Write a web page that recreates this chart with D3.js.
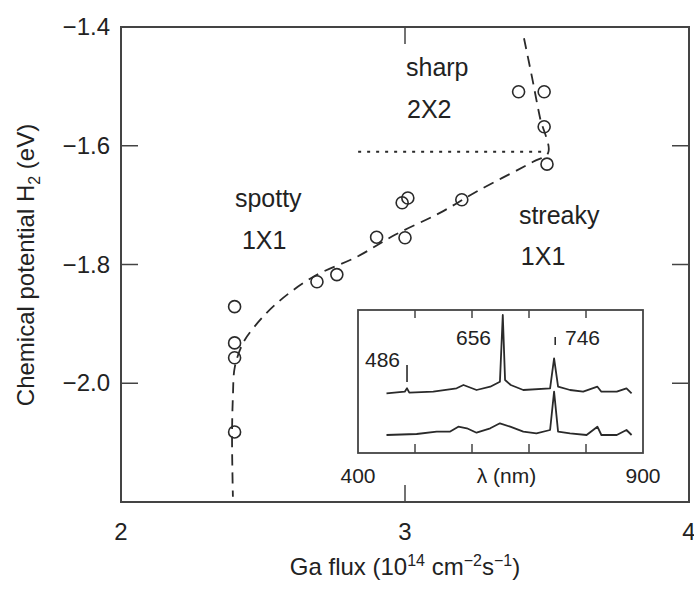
<!DOCTYPE html>
<html lang="en">
<head>
    <meta charset="UTF-8">
    <title>Chemical potential vs Ga flux</title>
    <script src="https://d3js.org/d3.v7.min.js"></script>
    <style>
        body { margin: 0; background: #fff; }
        svg { display: block; }
        text { font-family: "Liberation Sans", Arial, sans-serif; fill: #222; }
    </style>
</head>
<body>
<div id="chart"></div>
<script>
    // Measured points (Ga flux in 1e14 cm^-2 s^-1, chemical potential in eV)
    const fluxPts = [2.4, 2.4, 2.4, 2.4, 2.69, 2.76, 2.90, 3.00, 2.99, 3.01, 3.20, 3.40, 3.49, 3.49, 3.50];
    const muPts = [-1.871, -1.932, -1.957, -2.082, -1.829, -1.817, -1.754, -1.755, -1.696, -1.688, -1.691, -1.509, -1.509, -1.568, -1.631];

    // Dashed guide curve
    const fitFlux = [3.419, 3.447, 3.475, 3.504, 3.451, 3.264, 3.123, 2.965, 2.831, 2.676, 2.542, 2.461, 2.430, 2.401, 2.394, 2.391, 2.394];
    const fitMu = [-1.419, -1.484, -1.552, -1.612, -1.627, -1.674, -1.713, -1.750, -1.787, -1.821, -1.868, -1.910, -1.932, -1.972, -2.023, -2.090, -2.191];

    // Dotted 2X2 boundary
    const boundFlux = [2.835, 3.5];
    const boundMu = [-1.61, -1.61];

    const xTicks = [2, 3, 4];
    const yTicks = [-1.4, -1.6, -1.8, -2.0];

    // Inset spectra (wavelength nm, intensity arb. units)
    const lamTop = [450, 482, 486, 490, 532, 573, 585, 608, 632, 649, 654, 658, 668, 690, 737, 744, 751, 772, 795, 820, 827, 854, 871, 880];
    const intTop = [59.7, 61.3, 64.7, 60.3, 61.3, 64.7, 68, 63, 66.3, 71.3, 138, 73, 68, 63, 64.7, 94.7, 66.3, 63, 61.3, 66.3, 61.3, 61.3, 64.7, 59.7];
    const lamBot = [450, 503, 538, 561, 576, 591, 608, 632, 649, 667, 690, 713, 737, 744, 751, 772, 801, 820, 827, 854, 871, 880];
    const intBot = [18, 19, 21.3, 21.3, 26.3, 24.7, 20.3, 24.7, 29.7, 26.3, 21.3, 19.7, 23, 61.3, 21.3, 19.7, 18, 26.3, 18, 18, 23, 18];
    const insetTicks = [500, 600, 700, 800];
    const insetTickLabels = ["400", "900"];
    const lineLabels = ["486", "656", "746"];

    const W = 694, H = 591;
    const svg = d3.select("#chart").append("svg")
        .attr("width", W)
        .attr("height", H);

    const x = d3.scaleLinear().domain([2, 4]).range([121, 689]);
    const y = d3.scaleLinear().domain([-2.2, -1.4]).range([502, 27]);

    const ink = "#2a2a2a";

    // frame
    svg.append("rect")
        .attr("x", x(2)).attr("y", y(-1.4))
        .attr("width", x(4) - x(2)).attr("height", y(-2.2) - y(-1.4))
        .attr("fill", "none").attr("stroke", "#444").attr("stroke-width", 2);

    // inward ticks on all four sides
    const tl = 17;
    svg.append("g").selectAll("line")
        .data(xTicks.slice(1, -1))
        .join("line")
        .attr("x1", d => x(d)).attr("x2", d => x(d))
        .attr("y1", y(-2.2)).attr("y2", y(-2.2) - tl)
        .attr("stroke", "#444").attr("stroke-width", 1.5);
    svg.append("g").selectAll("line")
        .data(xTicks.slice(1, -1))
        .join("line")
        .attr("x1", d => x(d)).attr("x2", d => x(d))
        .attr("y1", y(-1.4)).attr("y2", y(-1.4) + tl)
        .attr("stroke", "#444").attr("stroke-width", 1.5);
    svg.append("g").selectAll("line")
        .data(yTicks.slice(1))
        .join("line")
        .attr("x1", x(2)).attr("x2", x(2) + tl)
        .attr("y1", d => y(d)).attr("y2", d => y(d))
        .attr("stroke", "#444").attr("stroke-width", 1.5);
    svg.append("g").selectAll("line")
        .data(yTicks.slice(1))
        .join("line")
        .attr("x1", x(4)).attr("x2", x(4) - tl)
        .attr("y1", d => y(d)).attr("y2", d => y(d))
        .attr("stroke", "#444").attr("stroke-width", 1.5);

    // tick labels
    svg.append("g").selectAll("text")
        .data(xTicks)
        .join("text")
        .attr("x", d => x(d))
        .attr("y", 540)
        .attr("text-anchor", "middle")
        .style("font-size", "24px")
        .text(d => d);
    svg.append("g").selectAll("text")
        .data(yTicks)
        .join("text")
        .attr("x", 110)
        .attr("y", d => y(d) + 8)
        .attr("text-anchor", "end")
        .style("font-size", "24px")
        .text(d => "\u2212" + Math.abs(d).toFixed(1));

    // axis titles
    const xt = svg.append("text")
        .attr("x", 405).attr("y", 575)
        .attr("text-anchor", "middle")
        .style("font-size", "24px");
    xt.append("tspan").text("Ga flux (10");
    xt.append("tspan").attr("dy", -9).style("font-size", "16px").text("14");
    xt.append("tspan").attr("dy", 9).text(" cm");
    xt.append("tspan").attr("dy", -9).style("font-size", "16px").text("\u22122");
    xt.append("tspan").attr("dy", 9).text("s");
    xt.append("tspan").attr("dy", -9).style("font-size", "16px").text("\u22121");
    xt.append("tspan").attr("dy", 9).text(")");

    const yt = svg.append("text")
        .attr("transform", "translate(34,265) rotate(-90)")
        .attr("text-anchor", "middle")
        .style("font-size", "24px");
    yt.append("tspan").text("Chemical potential H");
    yt.append("tspan").attr("dy", 6).style("font-size", "16px").text("2");
    yt.append("tspan").attr("dy", -6).text(" (eV)");

    // dashed guide curve
    const fit = fitFlux.map((f, i) => [f, fitMu[i]]);
    svg.append("path")
        .datum(fit)
        .attr("d", d3.line().x(d => x(d[0])).y(d => y(d[1])).curve(d3.curveCatmullRom.alpha(0.5)))
        .attr("fill", "none")
        .attr("stroke", ink)
        .attr("stroke-width", 1.8)
        .attr("stroke-dasharray", "11,7");

    // dotted boundary
    svg.append("path")
        .datum(boundFlux.map((f, i) => [f, boundMu[i]]))
        .attr("d", d3.line().x(d => x(d[0])).y(d => y(d[1])))
        .attr("fill", "none")
        .attr("stroke", ink)
        .attr("stroke-width", 2)
        .attr("stroke-dasharray", "3,6");

    // data circles
    svg.append("g").selectAll("circle")
        .data(fluxPts.map((f, i) => [f, muPts[i]]))
        .join("circle")
        .attr("cx", d => x(d[0]))
        .attr("cy", d => y(d[1]))
        .attr("r", 6)
        .attr("fill", "none")
        .attr("stroke", ink)
        .attr("stroke-width", 1.6);

    // phase labels
    const phase = svg.append("g").style("font-size", "25px");
    phase.append("text").attr("x", x(3.0035)).attr("y", y(-1.4825)).text("sharp");
    phase.append("text").attr("x", x(3.007)).attr("y", y(-1.553)).text("2X2");
    phase.append("text").attr("x", x(2.401)).attr("y", y(-1.703)).text("spotty");
    phase.append("text").attr("x", x(2.426)).attr("y", y(-1.774)).text("1X1");
    phase.append("text").attr("x", x(3.401)).attr("y", y(-1.732)).text("streaky");
    phase.append("text").attr("x", x(3.408)).attr("y", y(-1.801)).text("1X1");

    // ---- inset spectrum ----
    const ix = d3.scaleLinear().domain([400, 900]).range([358, 643]);
    const iy = d3.scaleLinear().domain([0, 143]).range([453, 310]);

    svg.append("rect")
        .attr("x", ix(400)).attr("y", iy(143))
        .attr("width", ix(900) - ix(400)).attr("height", iy(0) - iy(143))
        .attr("fill", "#fff").attr("stroke", "#444").attr("stroke-width", 1.8);

    svg.append("g").selectAll("line")
        .data(insetTicks)
        .join("line")
        .attr("x1", d => ix(d)).attr("x2", d => ix(d))
        .attr("y1", iy(0)).attr("y2", iy(0) - 9)
        .attr("stroke", "#444").attr("stroke-width", 1.5);
    svg.append("g").selectAll("line")
        .data(insetTicks)
        .join("line")
        .attr("x1", d => ix(d)).attr("x2", d => ix(d))
        .attr("y1", iy(143)).attr("y2", iy(143) + 8)
        .attr("stroke", "#444").attr("stroke-width", 1.5);

    const spec = d3.line().x(d => ix(d[0])).y(d => iy(d[1]));
    [[lamTop, intTop], [lamBot, intBot]].forEach(([l, v]) => {
        svg.append("path")
            .datum(l.map((w, i) => [w, v[i]]))
            .attr("d", spec)
            .attr("fill", "none")
            .attr("stroke", ink)
            .attr("stroke-width", 1.8)
            .attr("stroke-linejoin", "round");
    });

    // line markers for 486 and 746
    svg.append("line")
        .attr("x1", ix(486)).attr("x2", ix(486))
        .attr("y1", iy(71)).attr("y2", iy(88))
        .attr("stroke", ink).attr("stroke-width", 1.6);
    svg.append("line")
        .attr("x1", ix(746)).attr("x2", ix(746))
        .attr("y1", iy(108)).attr("y2", iy(116))
        .attr("stroke", ink).attr("stroke-width", 1.6);

    const il = svg.append("g").style("font-size", "21px");
    il.append("text").attr("x", 365).attr("y", 367).text(lineLabels[0]);
    il.append("text").attr("x", 456).attr("y", 345).text(lineLabels[1]);
    il.append("text").attr("x", 565).attr("y", 345).text(lineLabels[2]);

    il.append("text").attr("x", ix(400)).attr("y", 483).attr("text-anchor", "middle").text(insetTickLabels[0]);
    il.append("text").attr("x", ix(900)).attr("y", 483).attr("text-anchor", "middle").text(insetTickLabels[1]);
    il.append("text").attr("x", ix(650) + 6).attr("y", 483).attr("text-anchor", "middle").text("\u03bb (nm)");
</script>
</body>
</html>
